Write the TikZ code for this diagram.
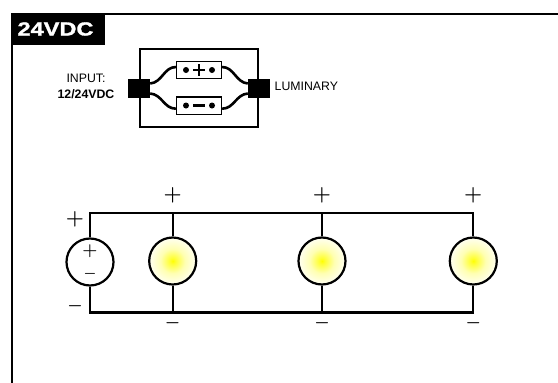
\documentclass[tikz,border=0pt]{standalone}
\usepackage{fontspec}
\setmainfont{Liberation Sans}
\newfontfamily\heavy{Liberation Sans}[FakeStretch=1.24,BoldFeatures={FakeBold=1.5}]
\pgfdeclareradialshading{lampshade}{\pgfpoint{0bp}{0bp}}{color(0bp)=(yellow); color(3bp)=(yellow!80!white); color(13bp)=(yellow!30!white); color(25bp)=(yellow!5!white); color(50bp)=(yellow!5!white)}
\begin{document}
\begin{tikzpicture}[x=1pt,y=-1pt,
  wire/.style={line width=2.2pt},
  symb/.style={font=\fontsize{21.5}{21.5}\selectfont\boldmath,inner sep=0pt},
  minus/.style={font=\fontsize{17}{17}\selectfont\boldmath,inner sep=0pt},
  lamp/.style={circle,draw,line width=2.2pt,minimum size=47pt,inner sep=0pt,shading=lampshade},
  source/.style={circle,draw,line width=2.2pt,minimum size=47pt,inner sep=0pt,fill=white},
  term/.style={rectangle,draw,line width=1.2pt,fill=white,minimum width=45pt,minimum height=17.5pt,inner sep=0pt},
  plug/.style={rectangle,fill=black,inner sep=0pt},
  dot/.style={circle,fill=black,inner sep=0pt,minimum size=6pt},
  bar/.style={rectangle,fill=black,inner sep=0pt},
  lbl/.style={font=\fontsize{12.3}{12.3}\selectfont,inner sep=0pt},
  cable/.style={line width=2.6pt}]
\useasboundingbox (0,0) rectangle (558,383);
\draw[line width=2pt] (11.5,383) -- (11.5,14) -- (558,14);
\node[rectangle,fill=black,minimum width=94pt,minimum height=31pt,inner sep=0pt] (tag) at (58,29) {};
\node[inner sep=0pt,text=white,font=\heavy\fontsize{19}{19}\selectfont\bfseries] (tagtext) at (55.5,29) {24VDC};
% connector box
\node[rectangle,draw,line width=2pt,minimum width=118pt,minimum height=78pt,inner sep=0pt] (box) at (199,87.8) {};
\node[plug,minimum width=22pt,minimum height=19pt] (inplug) at (139,88.5) {};
\node[plug,minimum width=22pt,minimum height=19pt] (outplug) at (259,88.5) {};
\node[term] (tp) at (199,70) {};
\node[term] (tm) at (199,105.7) {};
\coordinate (a1) at ([yshift=5pt]inplug.east);
\coordinate (a2) at ([yshift=-5pt]inplug.east);
\coordinate (b1) at ([yshift=5pt]outplug.west);
\coordinate (b2) at ([yshift=-5pt]outplug.west);
\coordinate (c1) at ([yshift=3pt]tp.west);
\coordinate (c2) at ([yshift=-3pt]tm.west);
\coordinate (d1) at ([yshift=3pt]tp.east);
\coordinate (d2) at ([yshift=-3pt]tm.east);
\draw[cable] (a1) .. controls +(12,-1) and +(-12,0) .. (c1);
\draw[cable] (a2) .. controls +(12,1) and +(-12,0) .. (c2);
\draw[cable] (b1) .. controls +(-12,-1) and +(12,0) .. (d1);
\draw[cable] (b2) .. controls +(-12,1) and +(12,0) .. (d2);
\node[dot] (tp1) at (186,70) {};
\node[dot] (tp2) at (212,70) {};
\node[dot] (tm1) at (186,105.5) {};
\node[dot] (tm2) at (212,105.5) {};
\node[bar,minimum width=12pt,minimum height=2.6pt] (pp1) at (199,70) {};
\node[bar,minimum width=2.6pt,minimum height=12pt] (pp2) at (199,70) {};
\node[bar,minimum width=12pt,minimum height=3pt] (mm) at (199,105) {};
\node[lbl] (in1) at (86,78.5) {INPUT:};
\node[lbl,font=\fontsize{12.3}{12.3}\selectfont\bfseries] (in2) at (86,94) {12/24VDC};
\node[lbl,anchor=west] (lum) at (274.5,86.5) {LUMINARY};
% circuit
\node[source] (src) at (90,262) {};
\node[lamp] (l1) at (172.7,261) {};
\node[lamp] (l2) at (322,261) {};
\node[lamp] (l3) at (473.3,261) {};
\coordinate (tl) at (90,212.7);
\coordinate (bl) at (90,312.5);
\coordinate (t1) at (172.7,212.7);
\coordinate (b1x) at (172.7,312.5);
\coordinate (t2) at (322,212.7);
\coordinate (b2x) at (322,312.5);
\coordinate (t3) at (473.3,212.7);
\coordinate (b3x) at (473.3,312.5);
\draw[wire] (src.north) -- (tl) -- (t3) -- (l3.north);
\draw[wire] (src.south) -- (bl) -- (b3x) -- (l3.south);
\draw[wire] (t1) -- (l1.north);
\draw[wire] (b1x) -- (l1.south);
\draw[wire] (t2) -- (l2.north);
\draw[wire] (b2x) -- (l2.south);
\node[symb] (p0) at (75,219.3) {$+$};
\node[minus] (m0) at (75,306) {$-$};
\node[symb,font=\fontsize{18.5}{18.5}\selectfont\boldmath] (ps) at (90,251) {$+$};
\node[minus,font=\fontsize{15}{15}\selectfont\boldmath] (ms) at (90,274) {$-$};
\node[symb] (p1) at (172.7,195.5) {$+$};
\node[minus] (m1) at (172.7,323) {$-$};
\node[symb] (p2) at (322,195.5) {$+$};
\node[minus] (m2) at (322,323) {$-$};
\node[symb] (p3) at (473.3,195.5) {$+$};
\node[minus] (m3) at (473.3,323) {$-$};
\end{tikzpicture}
\end{document}
